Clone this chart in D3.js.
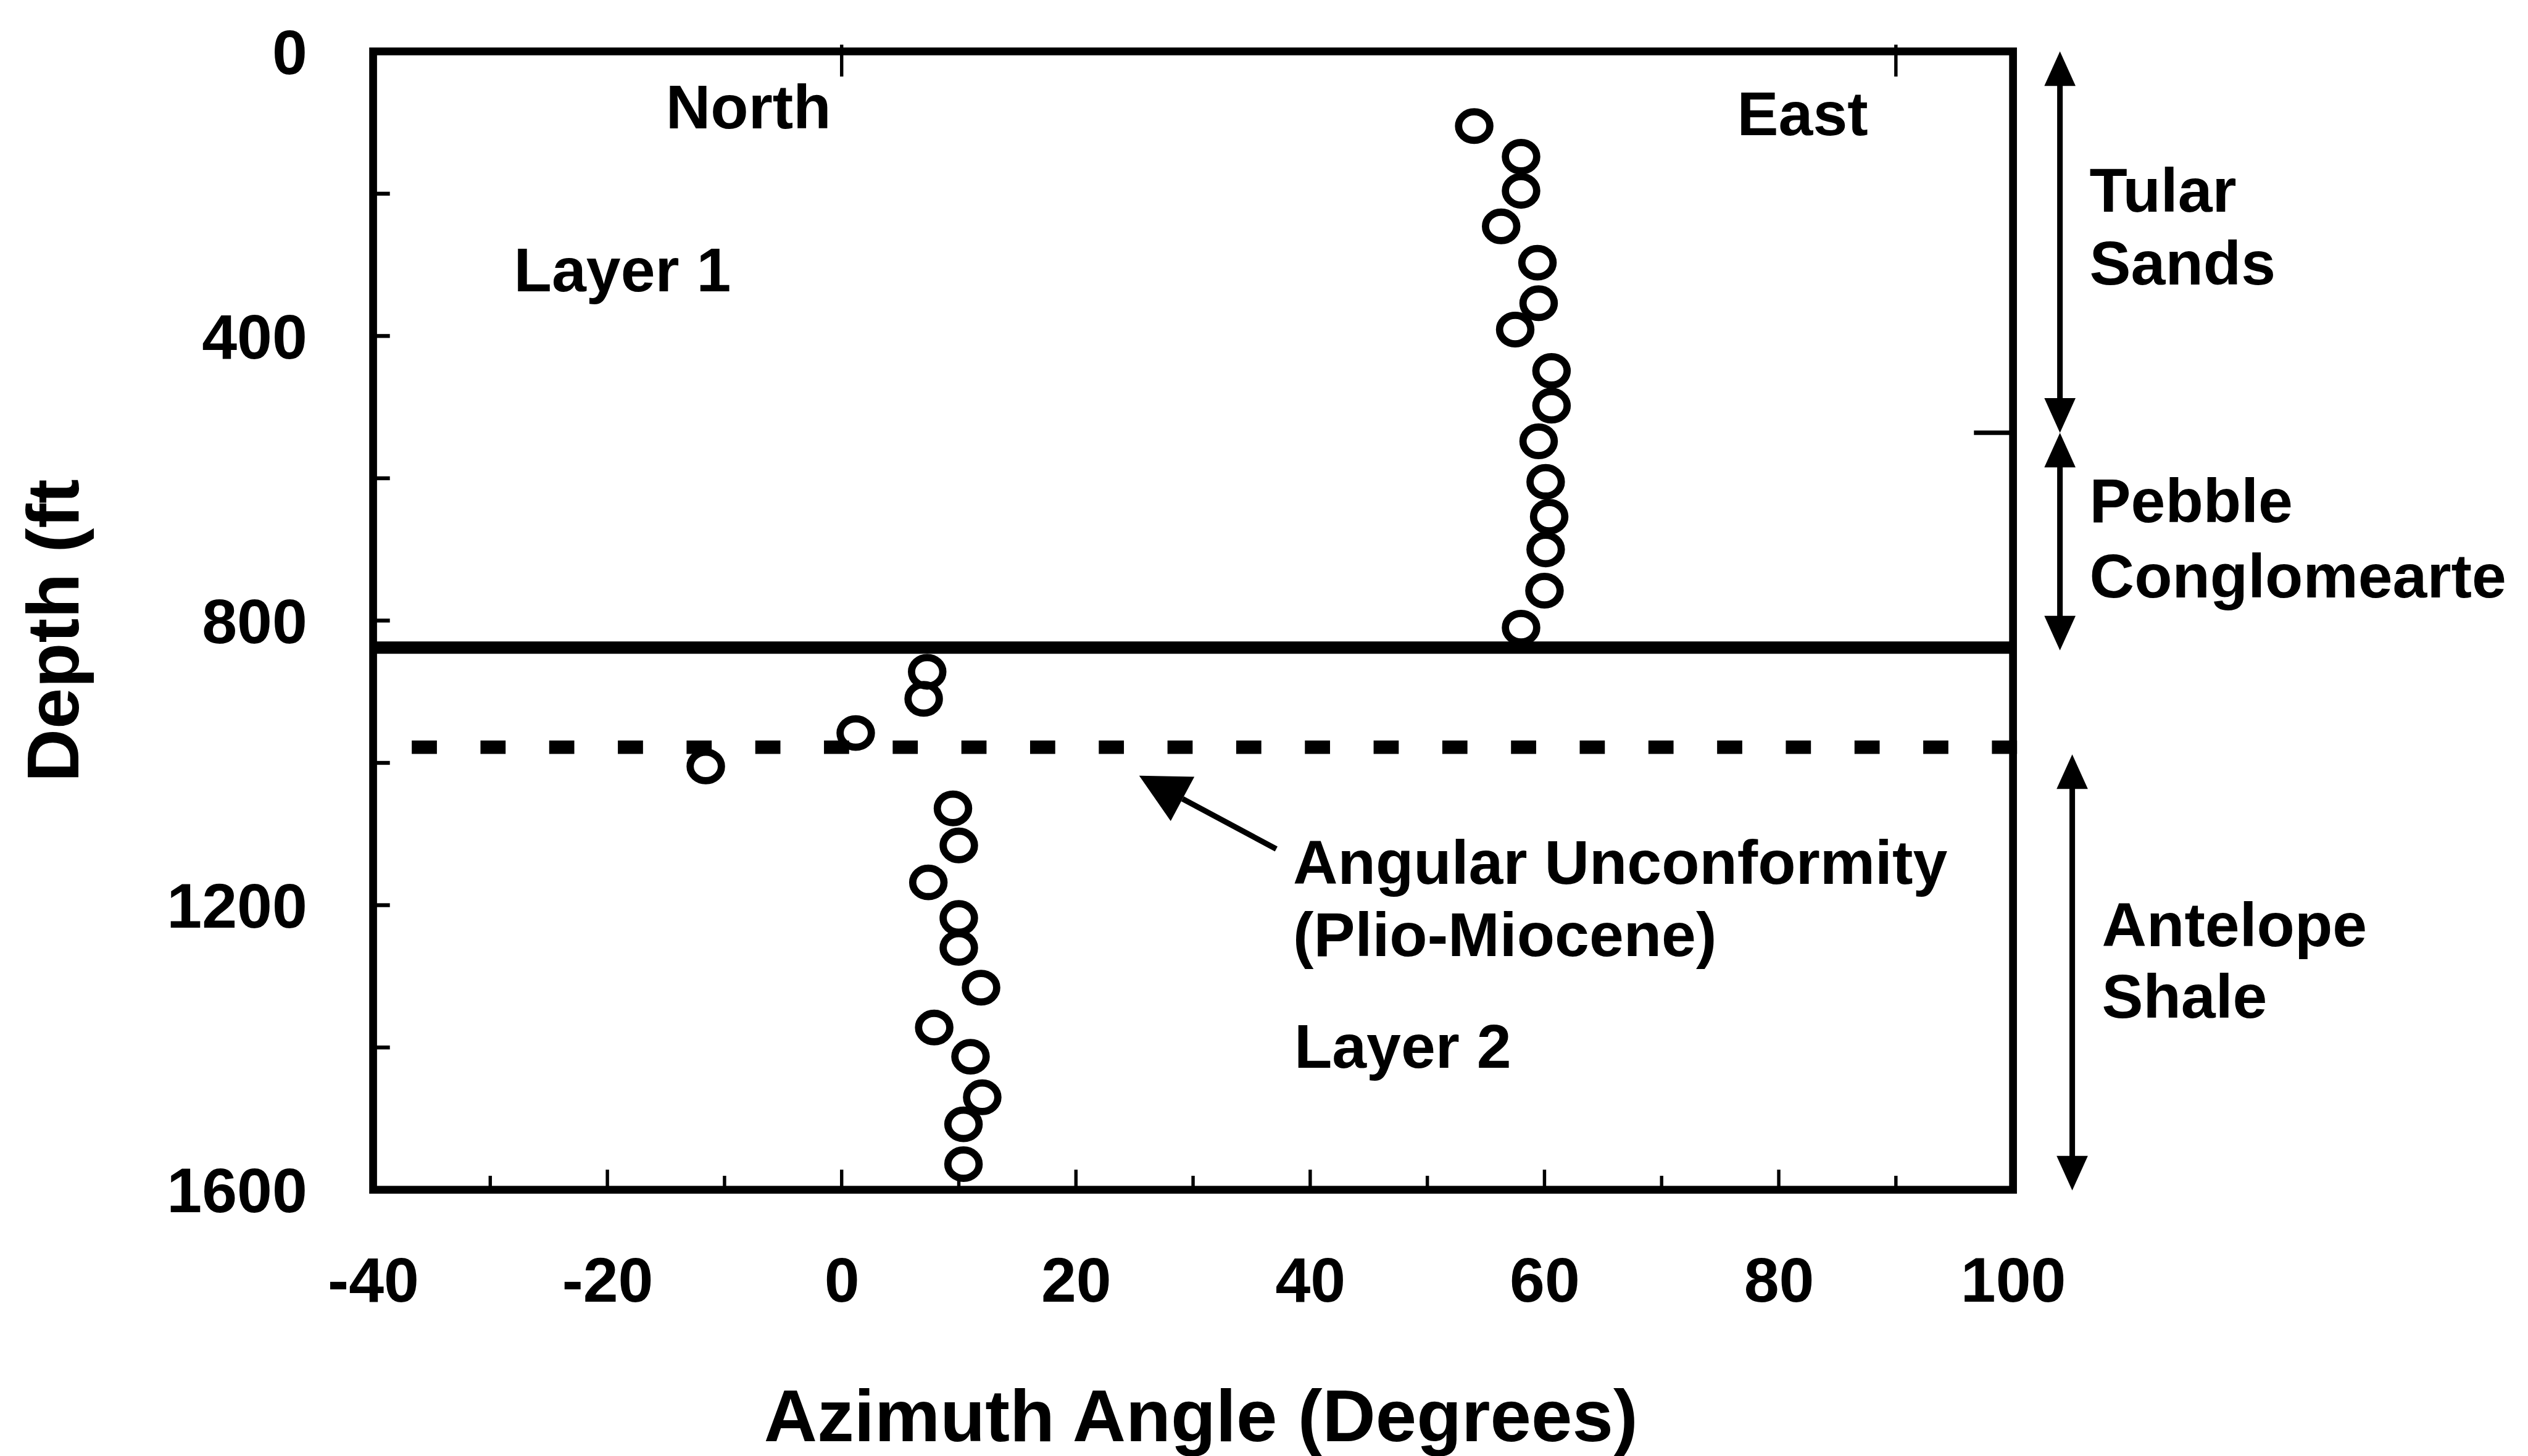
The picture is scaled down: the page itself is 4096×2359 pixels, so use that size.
<!DOCTYPE html>
<html>
<head>
<meta charset="utf-8">
<script src="https://cdn.jsdelivr.net/npm/d3@7"></script>
<style>
  html, body { margin: 0; padding: 0; background: #fff; }
  svg { display: block; }
  text { font-family: "Liberation Sans", Arial, sans-serif; font-weight: bold; fill: #000; }
</style>
</head>
<body>
<script>
// ---------------- data ----------------
const upperDepth   = [105, 148, 196, 246, 297, 354, 391, 449, 498, 548, 605, 654, 700, 758, 810];
const upperAzimuth = [54.0, 58.0, 58.0, 56.3, 59.4, 59.5, 57.5, 60.6, 60.6, 59.5, 60.1, 60.4, 60.1, 60.0, 58.0];
const lowerDepth   = [872, 910, 958, 1005, 1064, 1116, 1168, 1218, 1260, 1316, 1372, 1413, 1470, 1508, 1564];
const lowerAzimuth = [7.3, 7.0, 1.2, -11.6, 9.5, 10.0, 7.4, 10.0, 10.0, 11.9, 7.9, 11.0, 12.0, 10.4, 10.4];

const xTickLabels = [-40, -20, 0, 20, 40, 60, 80, 100];
const yTickLabels = [0, 400, 800, 1200, 1600];
const xTitle = "Azimuth Angle (Degrees)";
const yTitle = "Depth (ft";

const boundaryDepth = 838;        // solid layer boundary
const unconformityDepth = 978;    // dashed angular unconformity
const formations = [
  {name: ["Tular", "Sands"], top: 0, bottom: 536},
  {name: ["Pebble", "Conglomearte"], top: 536, bottom: 842},
  {name: ["Antelope", "Shale"], top: 988, bottom: 1601}
];

// ---------------- setup ----------------
const W = 4096, H = 2359, S = 0.905;
const svg = d3.select("body").append("svg").attr("width", W).attr("height", H);
const g = svg.append("g").attr("transform", `scale(${S})`);

// reference-pixel geometry
const x = d3.scaleLinear().domain([-40, 100]).range([668, 3604]);
const y = d3.scaleLinear().domain([0, 1600]).range([92, 2130]);

const TICK_FS = 113, ANN_FS = 111, TITLE_FS = 132;

// ---------------- data points ----------------
const pts = upperDepth.map((d, i) => ({depth: d, az: upperAzimuth[i]}))
  .concat(lowerDepth.map((d, i) => ({depth: d, az: lowerAzimuth[i]})));

// ---------------- lines ----------------
g.append("line")
  .attr("x1", x(-40)).attr("x2", x(100))
  .attr("y1", y(boundaryDepth)).attr("y2", y(boundaryDepth))
  .attr("stroke", "#000").attr("stroke-width", 22);

g.append("line")
  .attr("x1", x(-36.7)).attr("x2", x(100) + 8)
  .attr("y1", y(unconformityDepth)).attr("y2", y(unconformityDepth))
  .attr("stroke", "#000").attr("stroke-width", 24)
  .attr("stroke-dasharray", "45,78");

// ---------------- frame ----------------
g.append("rect")
  .attr("x", x(-40)).attr("y", y(0))
  .attr("width", x(100) - x(-40)).attr("height", y(1600) - y(0))
  .attr("fill", "none").attr("stroke", "#000").attr("stroke-width", 14);

// bottom inward ticks every 10
const bt = d3.range(-30, 100, 10);
g.selectAll(".bt").data(bt).enter().append("line")
  .attr("x1", d => x(d)).attr("x2", d => x(d))
  .attr("y1", y(1600)).attr("y2", d => y(1600) - (d % 20 === 0 ? 36 : 25))
  .attr("stroke", "#000").attr("stroke-width", 6);

// top ticks
g.selectAll(".tt").data([0, 90]).enter().append("line")
  .attr("x1", d => x(d)).attr("x2", d => x(d))
  .attr("y1", 80).attr("y2", 137)
  .attr("stroke", "#000").attr("stroke-width", 6);

// left inward ticks every 200
g.selectAll(".lt").data(d3.range(200, 1600, 200)).enter().append("line")
  .attr("x1", x(-40)).attr("x2", x(-40) + 30)
  .attr("y1", d => y(d)).attr("y2", d => y(d))
  .attr("stroke", "#000").attr("stroke-width", 7);

// right side boundary tick
g.append("line")
  .attr("x1", x(100) - 70).attr("x2", x(100))
  .attr("y1", y(536)).attr("y2", y(536))
  .attr("stroke", "#000").attr("stroke-width", 8);

// ---------------- axes labels via d3 axes ----------------
const xAxis = d3.axisBottom(x).tickValues(xTickLabels).tickSize(0).tickFormat(d => String(d));
const gx = g.append("g").attr("transform", `translate(0,${y(1600)})`).call(xAxis);
gx.select(".domain").remove();
gx.selectAll("text")
  .attr("y", 2330 - 2130).attr("dy", 0)
  .style("font-size", TICK_FS + "px")
  .style("font-family", '"Liberation Sans", Arial, sans-serif')
  .style("font-weight", "bold").attr("fill", "#000");

const yAxis = d3.axisLeft(y).tickValues(yTickLabels).tickSize(0).tickFormat(d => String(d));
const gy = g.append("g").attr("transform", `translate(${x(-40)},0)`).call(yAxis);
gy.select(".domain").remove();
gy.selectAll("text")
  .attr("x", 550 - x(-40)).attr("dy", 40)
  .attr("text-anchor", "end")
  .style("font-size", TICK_FS + "px")
  .style("font-family", '"Liberation Sans", Arial, sans-serif')
  .style("font-weight", "bold").attr("fill", "#000");

// titles
g.append("text").attr("x", 2150).attr("y", 2580)
  .attr("text-anchor", "middle").style("font-size", TITLE_FS + "px").text(xTitle);
g.append("text").attr("transform", "translate(140,1129) rotate(-90)")
  .attr("text-anchor", "middle").style("font-size", TITLE_FS + "px").text(yTitle);

// ---------------- markers ----------------
g.selectAll(".pt").data(pts).enter().append("ellipse")
  .attr("cx", d => x(d.az)).attr("cy", d => y(d.depth))
  .attr("rx", 28).attr("ry", 25.5)
  .attr("fill", "none").attr("stroke", "#000").attr("stroke-width", 13);

// ---------------- annotations ----------------
function label(t, px, py) {
  g.append("text").attr("x", px).attr("y", py).style("font-size", ANN_FS + "px").text(t);
}
label("North", 1192, 230);
label("East", 3110, 242);
label("Layer 1", 920, 522);
label("Angular Unconformity", 2315, 1582);
label("(Plio-Miocene)", 2315, 1712);
label("Layer 2", 2317, 1912);

// formation double arrows
function arrowHead(tipX, tipY, dirX, dirY, len, wid) {
  const n = Math.hypot(dirX, dirY); const ux = dirX / n, uy = dirY / n;
  const bx = tipX - ux * len, by = tipY - uy * len;
  const px = -uy * wid / 2, py = ux * wid / 2;
  g.append("path")
    .attr("d", `M${tipX},${tipY}L${bx + px},${by + py}L${bx - px},${by - py}Z`)
    .attr("fill", "#000");
  return [bx, by];
}
const arrowX = [3688, 3688, 3710];
const textX = [3741, 3741, 3763];
const textY = [[379, 509], [935, 1070], [1694, 1822]];
formations.forEach((f, i) => {
  const ax = arrowX[i];
  const y1 = y(f.top), y2 = y(f.bottom);
  g.append("line").attr("x1", ax).attr("x2", ax)
    .attr("y1", y1 + 30).attr("y2", y2 - 30)
    .attr("stroke", "#000").attr("stroke-width", 10);
  arrowHead(ax, y1, 0, -1, 62, 56);
  arrowHead(ax, y2, 0, 1, 62, 56);
  label(f.name[0], textX[i], textY[i][0]);
  label(f.name[1], textX[i], textY[i][1]);
});

// unconformity pointer arrow
const tail = [x(37.1), y(1121)], tip = [x(25.4), y(1018)];
const base = arrowHead(tip[0], tip[1], tip[0] - tail[0], tip[1] - tail[1], 88, 90);
g.append("line").attr("x1", tail[0]).attr("y1", tail[1])
  .attr("x2", base[0]).attr("y2", base[1])
  .attr("stroke", "#000").attr("stroke-width", 10);
</script>
</body>
</html>
